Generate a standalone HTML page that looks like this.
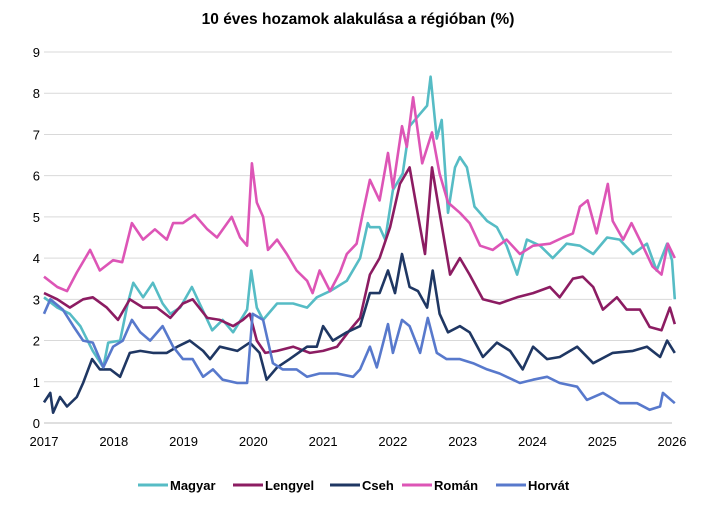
<!DOCTYPE html>
<html><head><meta charset="utf-8">
<style>
body{margin:0;background:#fff;font-family:"Liberation Sans",sans-serif;}
svg text{font-family:"Liberation Sans",sans-serif;}
</style></head>
<body>
<svg id="chart" width="715" height="508" viewBox="0 0 715 508" xmlns="http://www.w3.org/2000/svg">
<text x="358" y="24" text-anchor="middle" font-size="15.5" font-weight="bold" fill="#000">10 éves hozamok alakulása a régióban (%)</text>
<g id="grid"></g><g id="axes"></g><g id="series"></g><g id="legend"></g>
</svg>
<script>
const yTicks=[0,1,2,3,4,5,6,7,8,9];
const xTicks=[2017,2018,2019,2020,2021,2022,2023,2024,2025,2026];
const seriesNames=["Magyar","Lengyel","Cseh","Román","Horvát"];
const seriesColors=["#56bcc5","#8c1c62","#1f3763","#dd55b6","#5879cc"];

const magyarDates=[2017.0,2017.19,2017.37,2017.52,2017.70,2017.85,2017.92,2018.09,2018.20,2018.28,2018.42,2018.56,2018.70,2018.81,2018.95,2019.12,2019.23,2019.41,2019.56,2019.71,2019.91,2019.97,2020.05,2020.14,2020.34,2020.57,2020.77,2020.91,2021.10,2021.34,2021.53,2021.64,2021.67,2021.81,2021.89,2022.0,2022.14,2022.24,2022.39,2022.49,2022.54,2022.63,2022.70,2022.79,2022.89,2022.96,2023.06,2023.17,2023.35,2023.49,2023.63,2023.78,2023.92,2024.11,2024.29,2024.49,2024.68,2024.87,2025.07,2025.25,2025.44,2025.64,2025.78,2025.93,2026.0,2026.04];
const magyarValues=[3.05,2.8,2.65,2.35,1.75,1.35,1.95,2.0,2.9,3.4,3.05,3.4,2.9,2.65,2.8,3.3,2.9,2.25,2.5,2.2,2.75,3.7,2.8,2.5,2.9,2.9,2.8,3.05,3.2,3.45,4.0,4.85,4.75,4.75,4.45,5.65,6.05,7.2,7.5,7.7,8.4,6.9,7.35,5.1,6.2,6.45,6.2,5.25,4.9,4.75,4.3,3.6,4.45,4.3,4.0,4.35,4.3,4.1,4.5,4.45,4.1,4.35,3.7,4.35,3.95,3.0];

const lengyelDates=[2017.0,2017.19,2017.37,2017.56,2017.70,2017.90,2018.06,2018.23,2018.42,2018.62,2018.81,2018.99,2019.13,2019.34,2019.52,2019.71,2019.85,2019.95,2020.05,2020.17,2020.34,2020.57,2020.81,2021.0,2021.20,2021.38,2021.53,2021.67,2021.81,2021.96,2022.10,2022.24,2022.39,2022.46,2022.56,2022.67,2022.82,2022.96,2023.10,2023.29,2023.53,2023.78,2024.01,2024.25,2024.39,2024.58,2024.72,2024.87,2025.01,2025.21,2025.35,2025.54,2025.68,2025.85,2025.97,2026.04];
const lengyelValues=[3.15,3.0,2.8,3.0,3.05,2.8,2.5,3.0,2.8,2.8,2.55,2.9,3.0,2.55,2.5,2.35,2.5,2.65,2.0,1.7,1.75,1.85,1.7,1.75,1.85,2.25,2.55,3.6,4.0,4.75,5.8,6.2,4.75,4.1,6.2,5.1,3.6,4.0,3.6,3.0,2.9,3.05,3.15,3.3,3.05,3.5,3.55,3.3,2.75,3.05,2.75,2.75,2.33,2.25,2.8,2.4];

const csehDates=[2017.0,2017.09,2017.13,2017.23,2017.33,2017.47,2017.56,2017.69,2017.80,2017.95,2018.09,2018.23,2018.38,2018.56,2018.76,2018.91,2019.09,2019.28,2019.38,2019.52,2019.77,2019.95,2020.09,2020.19,2020.34,2020.52,2020.77,2020.91,2021.0,2021.14,2021.34,2021.53,2021.67,2021.81,2021.93,2022.03,2022.13,2022.24,2022.36,2022.49,2022.57,2022.67,2022.79,2022.96,2023.10,2023.29,2023.49,2023.68,2023.86,2024.01,2024.21,2024.39,2024.64,2024.87,2025.15,2025.44,2025.64,2025.83,2025.93,2026.04];
const csehValues=[0.5,0.73,0.25,0.63,0.4,0.63,0.97,1.55,1.3,1.3,1.12,1.7,1.75,1.7,1.7,1.85,2.0,1.75,1.55,1.85,1.75,1.95,1.7,1.05,1.35,1.55,1.85,1.85,2.35,2.0,2.2,2.35,3.15,3.15,3.7,3.15,4.1,3.3,3.2,2.8,3.7,2.65,2.2,2.35,2.2,1.6,1.95,1.75,1.3,1.85,1.55,1.6,1.85,1.45,1.7,1.75,1.85,1.6,2.0,1.7];

const romanDates=[2017.0,2017.19,2017.33,2017.47,2017.66,2017.80,2017.99,2018.12,2018.26,2018.42,2018.59,2018.76,2018.85,2018.99,2019.16,2019.34,2019.48,2019.69,2019.81,2019.91,2019.98,2020.05,2020.14,2020.21,2020.34,2020.48,2020.62,2020.77,2020.85,2020.95,2021.10,2021.24,2021.34,2021.48,2021.57,2021.67,2021.81,2021.93,2022.0,2022.13,2022.20,2022.29,2022.42,2022.56,2022.67,2022.79,2022.96,2023.10,2023.25,2023.43,2023.63,2023.82,2024.01,2024.25,2024.44,2024.58,2024.68,2024.79,2024.92,2025.08,2025.15,2025.30,2025.42,2025.58,2025.72,2025.85,2025.94,2026.04];
const romanValues=[3.55,3.3,3.2,3.65,4.2,3.7,3.95,3.9,4.85,4.45,4.7,4.45,4.85,4.85,5.05,4.7,4.5,5.0,4.5,4.3,6.3,5.35,5.0,4.2,4.45,4.1,3.7,3.45,3.15,3.7,3.2,3.65,4.1,4.35,5.1,5.9,5.4,6.55,5.7,7.2,6.7,7.9,6.3,7.05,6.05,5.35,5.1,4.85,4.3,4.2,4.45,4.1,4.3,4.35,4.5,4.6,5.25,5.4,4.6,5.8,4.9,4.45,4.85,4.3,3.8,3.6,4.35,4.0];

const horvatDates=[2017.0,2017.09,2017.27,2017.42,2017.56,2017.70,2017.85,2017.99,2018.13,2018.26,2018.38,2018.52,2018.70,2018.85,2018.99,2019.13,2019.28,2019.42,2019.56,2019.77,2019.91,2019.99,2020.14,2020.28,2020.42,2020.62,2020.77,2020.95,2021.20,2021.43,2021.53,2021.67,2021.77,2021.93,2022.0,2022.13,2022.24,2022.39,2022.50,2022.63,2022.77,2022.96,2023.15,2023.35,2023.53,2023.82,2024.01,2024.21,2024.39,2024.64,2024.78,2025.01,2025.25,2025.50,2025.68,2025.83,2025.87,2026.04];
const horvatValues=[2.65,3.0,2.75,2.35,2.0,1.95,1.35,1.85,2.0,2.5,2.2,2.0,2.35,1.85,1.55,1.55,1.12,1.3,1.05,0.97,0.97,2.65,2.5,1.45,1.3,1.3,1.12,1.2,1.2,1.12,1.3,1.85,1.35,2.4,1.7,2.5,2.35,1.7,2.55,1.7,1.55,1.55,1.45,1.3,1.2,0.97,1.05,1.12,0.97,0.88,0.56,0.73,0.48,0.48,0.32,0.4,0.73,0.48];

const allDates=[magyarDates,lengyelDates,csehDates,romanDates,horvatDates];
const allValues=[magyarValues,lengyelValues,csehValues,romanValues,horvatValues];

const NS="http://www.w3.org/2000/svg";
const X0=44,X1=672,Y0=423,Y9=52;
function xScale(t){return X0+(t-2017)/(2026-2017)*(X1-X0);}
function yScale(v){return Y0-v/9*(Y0-Y9);}
function mk(tag,parent,attrs){const e=document.createElementNS(NS,tag);for(const k in attrs)e.setAttribute(k,attrs[k]);parent.appendChild(e);return e;}

const grid=document.getElementById('grid'),axes=document.getElementById('axes'),ser=document.getElementById('series'),leg=document.getElementById('legend');
yTicks.forEach(v=>{
  const l=mk('line',grid,{x1:X0,x2:X1,y1:yScale(v),y2:yScale(v),stroke:v===0?'#bfbfbf':'#d9d9d9','stroke-width':1});
  
  
  const t=mk('text',axes,{x:40,y:yScale(v)+5,'text-anchor':'end','font-size':13,fill:'#000'});
  t.textContent=v;
  
  
});
xTicks.forEach(y=>{
  const t=mk('text',axes,{x:xScale(y),y:446,'text-anchor':'middle','font-size':13,fill:'#000'});
  t.textContent=y;
  
  
});
allValues.forEach((vals,i)=>{
  const d=allDates[i];
  const pts=vals.map((v,j)=>xScale(d[j]).toFixed(1)+','+yScale(v).toFixed(1)).join(' ');
  const p=mk('polyline',ser,{points:pts,fill:'none',stroke:seriesColors[i],'stroke-width':2.6,'stroke-linejoin':'round'});
  
  
});
const legX=[138,233,330,402,496];
seriesNames.forEach((n,i)=>{
  const g=mk('g',leg,{});
  
  
  mk('line',g,{x1:legX[i],x2:legX[i]+30,y1:485,y2:485,stroke:seriesColors[i],'stroke-width':3});
  const t=mk('text',g,{x:legX[i]+32,y:490,'font-size':13,'font-weight':'bold',fill:'#000'});
  t.textContent=n;
});
</script>
</body></html>
